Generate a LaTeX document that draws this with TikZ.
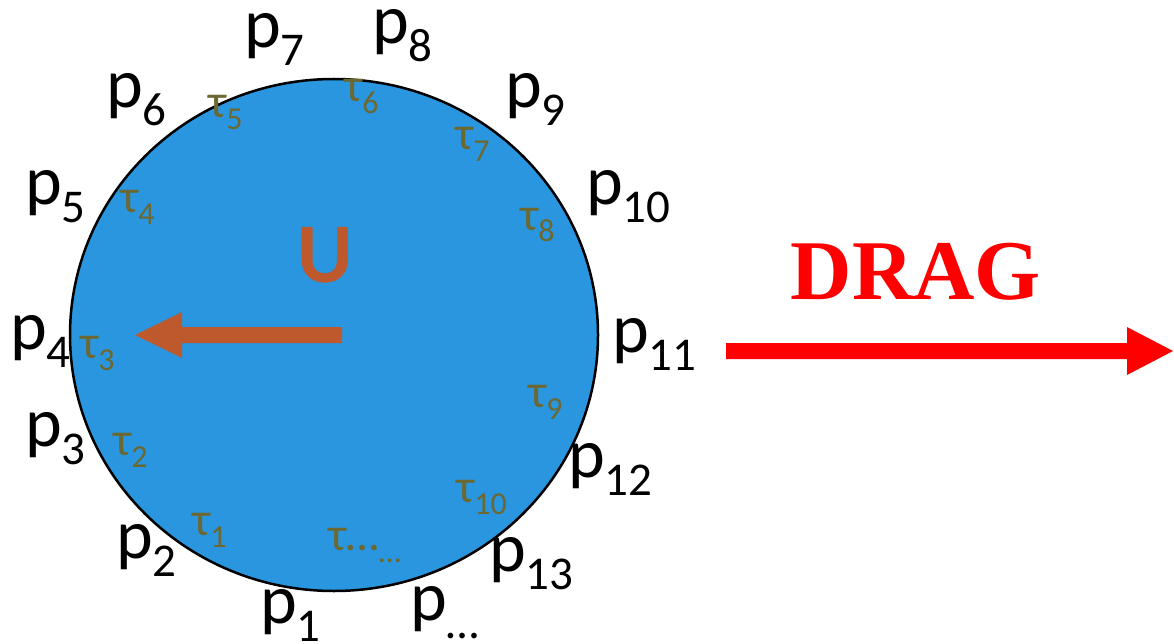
\documentclass[tikz,border=0pt]{standalone}
\usepackage{fontspec}
\setmainfont{Carlito}
\newfontfamily\dragfont{Liberation Serif}
\usetikzlibrary{shapes.geometric}
\definecolor{diskblue}{RGB}{41,150,223}
\definecolor{uorange}{RGB}{190,88,45}
\definecolor{tauolive}{RGB}{108,104,50}
\definecolor{dragred}{RGB}{255,0,0}
\newcommand{\psb}[1]{\raisebox{-18pt}{\fontsize{47pt}{47pt}\selectfont #1}}
\newcommand{\tsb}[1]{\raisebox{-12pt}{\fontsize{32pt}{32pt}\selectfont #1}}
\tikzset{
  plab/.style={anchor=base west, inner sep=0pt, font=\fontsize{70pt}{70pt}\selectfont, text=black},
  tlab/.style={anchor=base west, inner sep=0pt, font=\fontsize{47pt}{47pt}\selectfont, text=tauolive},
  disk/.style={ellipse, draw=black, line width=2.5pt, fill=diskblue, inner sep=0pt},
}
\begin{document}
\begin{tikzpicture}[x=1pt,y=-1pt]
\useasboundingbox (0,0) rectangle (1174,644);
\node[disk, minimum width=528pt, minimum height=512pt] (circ) at (334,335) {};
% p labels
\node[plab] (p1) at (260,623) {p\psb{1}};
\node[plab] (pdots) at (410,620) {p\psb{…}};
\node[plab] (p2) at (116,558) {p\psb{2}};
\node[plab] (p13) at (489,571) {p\psb{13}};
\node[plab] (p3) at (25,446) {p\psb{3}};
\node[plab] (p12) at (568,477) {p\psb{12}};
\node[plab] (p4) at (10,349) {p\psb{4}};
\node[plab] (p11) at (612,352) {p\psb{11}};
\node[plab] (p5) at (25,205) {p\psb{5}};
\node[plab] (p10) at (586,205) {p\psb{10}};
\node[plab] (p6) at (106,108) {p\psb{6}};
\node[plab] (p9) at (505,108) {p\psb{9}};
\node[plab] (p7) at (244,48) {p\psb{7}};
\node[plab] (p8) at (372,44) {p\psb{8}};
% tau labels
\node[tlab] (t1) at (192,535) {τ\tsb{1}};
\node[tlab] (tdots) at (328,550) {τ…\tsb{…}};
\node[tlab] (t2) at (113,455) {τ\tsb{2}};
\node[tlab] (t3) at (80,358) {τ\tsb{3}};
\node[tlab] (t4) at (120,213) {τ\tsb{4}};
\node[tlab] (t5) at (208,118) {τ\tsb{5}};
\node[tlab] (t6) at (344,102) {τ\tsb{6}};
\node[tlab] (t7) at (455,150) {τ\tsb{7}};
\node[tlab] (t8) at (520,230) {τ\tsb{8}};
\node[tlab] (t9) at (528,407) {τ\tsb{9}};
\node[tlab] (t10) at (456,502) {τ\tsb{10}};
% U and its arrow
\node[anchor=base, inner sep=0pt, font=\bfseries\fontsize{85pt}{85pt}\selectfont, text=uorange] (U) at (325,282) {U};
\fill[uorange] (342,327) -- (182,327) -- (182,312) -- (135,335) -- (182,358) -- (182,343) -- (342,343) -- cycle;
% DRAG
\node[anchor=base, inner sep=0pt, font=\dragfont\bfseries\fontsize{85pt}{85pt}\selectfont, text=dragred] (drag) at (916,299) {DRAG};
\fill[dragred] (726,343) -- (1127,343) -- (1127,327) -- (1173,351) -- (1127,375) -- (1127,359) -- (726,359) -- cycle;
\end{tikzpicture}
\end{document}
